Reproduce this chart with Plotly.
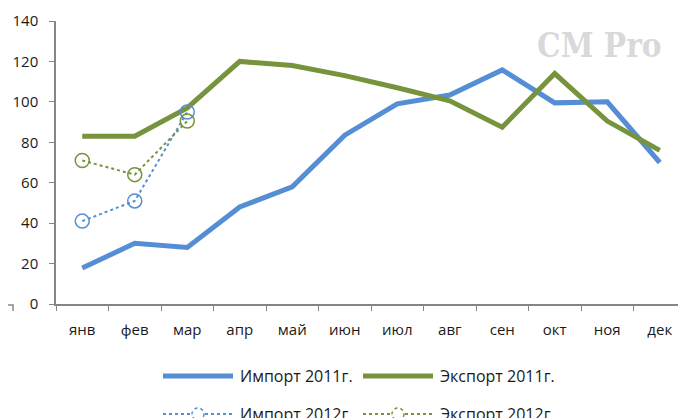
import plotly.graph_objects as go

months = ["янв", "фев", "мар", "апр", "май", "июн", "июл", "авг", "сен", "окт", "ноя", "дек"]
import_2011 = [17.8, 30, 28, 48, 58, 83.5, 99, 103.4, 115.8, 99.5, 100, 70]
export_2011 = [83, 83, 97, 120, 118, 113, 107, 100.5, 87.5, 114, 90.5, 76]
months_2012 = ["янв", "фев", "мар"]
import_2012 = [41, 51, 95]
export_2012 = [71, 64, 90.5]
y_ticks = [0, 20, 40, 60, 80, 100, 120, 140]

BLUE = "#558ED5"
GREEN = "#77933C"
FONT = "Open Sans"

OFF = 8  # page body margin
W, H = 686 - OFF, 418 - OFF
L, R, T, B = 56 - OFF, 0, 21 - OFF, 418 - 304
PW, PH = W - L - R, H - T - B

fig = go.Figure()
fig.add_trace(go.Scatter(x=months, y=import_2011, mode="lines", name="Импорт 2011г.",
                         line=dict(color=BLUE, width=5)))
fig.add_trace(go.Scatter(x=months, y=export_2011, mode="lines", name="Экспорт 2011г.",
                         line=dict(color=GREEN, width=5)))
fig.add_trace(go.Scatter(x=months_2012, y=import_2012, mode="lines+markers", name="Импорт 2012г.",
                         line=dict(color=BLUE, width=2, dash="dot"),
                         marker=dict(symbol="circle-open", size=14, color=BLUE, line=dict(width=1.5, color=BLUE))))
fig.add_trace(go.Scatter(x=months_2012, y=export_2012, mode="lines+markers", name="Экспорт 2012г.",
                         line=dict(color=GREEN, width=2, dash="dot"),
                         marker=dict(symbol="circle-open", size=14, color=GREEN, line=dict(width=1.5, color=GREEN))))


def px(x):
    # page x -> paper fraction
    return (x - OFF - L) / PW


def py(y):
    # page y -> paper fraction
    return (T + PH - (y - OFF)) / PH


shapes = []
annotations = []
legend_items = [
    ("Импорт 2011г.", BLUE, 163, 376, False),
    ("Экспорт 2011г.", GREEN, 363, 376, False),
    ("Импорт 2012г.", BLUE, 163, 414, True),
    ("Экспорт 2012г.", GREEN, 363, 414, True),
]
for text, col, x0, yy, dotted in legend_items:
    shapes.append(dict(type="line", xref="paper", yref="paper",
                       x0=px(x0), x1=px(x0 + 70), y0=py(yy), y1=py(yy),
                       line=dict(color=col, width=2 if dotted else 5, dash="dot" if dotted else "solid")))
    if dotted:
        shapes.append(dict(type="circle", xref="paper", yref="paper",
                           x0=px(x0 + 29), x1=px(x0 + 41), y0=py(yy + 6), y1=py(yy - 6),
                           fillcolor="white", line=dict(color=col, width=1.5, dash="dot")))
    annotations.append(dict(text=text, xref="paper", yref="paper", x=px(x0 + 75), y=py(yy),
                            xanchor="left", yanchor="middle", showarrow=False,
                            font=dict(family=FONT, size=16, color="#1a1a1a")))

# watermark
annotations.append(dict(text="<b>CM Pro</b>", xref="paper", yref="paper", x=px(599), y=py(46),
                        xanchor="center", yanchor="middle", showarrow=False,
                        font=dict(family="DejaVu Serif Condensed", size=33, color="#d9d9d9")))

# remnant of neighbouring chart at bottom-left
shapes.append(dict(type="path", xref="paper", yref="paper",
                   path=f"M {px(OFF)} {py(305)} L {px(13)} {py(305)} L {px(13)} {py(311)}",
                   line=dict(color="#868686", width=1.5)))

fig.update_layout(
    width=W, height=H,
    margin=dict(l=L, r=R, t=T, b=B, autoexpand=False),
    plot_bgcolor="white", paper_bgcolor="white",
    showlegend=False,
    shapes=shapes, annotations=annotations,
    font=dict(family=FONT, size=14, color="#1a1a1a"),
    xaxis=dict(type="category", range=[-0.5, 11.5], showgrid=False, showline=True,
               linecolor="#868686", linewidth=1.5, ticks="outside", ticklen=5,
               tickcolor="#868686", tickson="boundaries", tickfont=dict(size=15),
               ticklabelstandoff=11, automargin=False),
    yaxis=dict(range=[0, 140], tickvals=y_ticks, showgrid=False, showline=True,
               linecolor="#868686", linewidth=1.5, ticks="outside", ticklen=5,
               tickcolor="#868686", tickfont=dict(size=15), zeroline=False,
               ticklabelstandoff=8, automargin=False),
)

fig.write_html("out.html")
